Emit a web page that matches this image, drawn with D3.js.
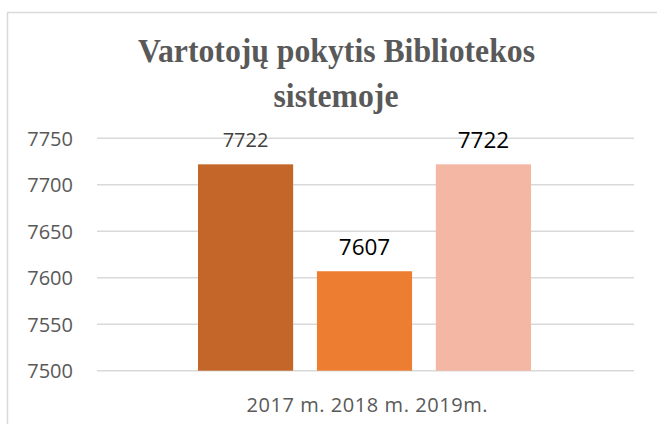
<!DOCTYPE html>
<html>
<head>
<meta charset="utf-8">
<script src="https://cdn.jsdelivr.net/npm/d3@7"></script>
<style>
  html, body { margin: 0; padding: 0; background: #fff; }
  svg { display: block; }
</style>
</head>
<body>
<svg id="chart" width="657" height="424"></svg>
<script>
const titleLines = ["Vartotojų pokytis Bibliotekos", "sistemoje"];
const categoryLabel = "2017 m. 2018 m. 2019m.";
const seriesNames = ["2017 m.", "2018 m.", "2019m."];
const seriesValues = [7722, 7607, 7722];
const seriesColors = ["#c4662a", "#ed7d31", "#f4b7a3"];
const yTicks = [7500, 7550, 7600, 7650, 7700, 7750];

const svg = d3.select("#chart");

// outer frame
svg.append("rect")
  .attr("x", 7.5).attr("y", 12.5)
  .attr("width", 720).attr("height", 520)
  .attr("fill", "#fff")
  .attr("stroke", "#d9d9d9").attr("stroke-width", 1.5);

// title
const title = svg.append("g");
title.append("text")
  .attr("x", 336.5).attr("y", 62)
  .attr("text-anchor", "middle")
  .attr("font-family", "'Liberation Serif', 'Times New Roman', serif")
  .attr("font-weight", "bold")
  .attr("font-size", 33)
  .attr("fill", "#595959")
  .attr("textLength", 397)
  .attr("lengthAdjust", "spacingAndGlyphs")
  .text(titleLines[0]);
title.append("text")
  .attr("x", 336).attr("y", 106.5)
  .attr("text-anchor", "middle")
  .attr("font-family", "'Liberation Serif', 'Times New Roman', serif")
  .attr("font-weight", "bold")
  .attr("font-size", 33)
  .attr("fill", "#595959")
  .attr("textLength", 125)
  .attr("lengthAdjust", "spacingAndGlyphs")
  .text(titleLines[1]);

// scales
const plotLeft = 97, plotRight = 634;
const y = d3.scaleLinear().domain([7500, 7750]).range([370.7, 138.3]);
const x = d3.scaleBand().domain(seriesNames).range([198, 531]).paddingInner(0.2).paddingOuter(0);

// gridlines
svg.append("g")
  .selectAll("line")
  .data(yTicks)
  .join("line")
  .attr("x1", plotLeft).attr("x2", plotRight)
  .attr("y1", d => y(d)).attr("y2", d => y(d))
  .attr("stroke", "#d9d9d9").attr("stroke-width", 1.5);

// y axis labels
const yAxis = d3.axisLeft(y).tickValues(yTicks).tickSize(0).tickPadding(0).tickFormat(d3.format("d"));
const yg = svg.append("g").attr("transform", "translate(73,0)").call(yAxis);
yg.select(".domain").remove();
yg.selectAll("text")
  .attr("font-family", "'Open Sans', 'Noto Sans', sans-serif")
  .attr("font-size", 20)
  .attr("fill", "#595959")
  .attr("dy", "0.36em");

// bars
const data = seriesNames.map((n, i) => ({ name: n, value: seriesValues[i], color: seriesColors[i] }));
svg.append("g")
  .selectAll("rect")
  .data(data)
  .join("rect")
  .attr("x", d => x(d.name))
  .attr("width", x.bandwidth())
  .attr("y", d => y(d.value))
  .attr("height", d => y(7500) - y(d.value))
  .attr("fill", d => d.color);

// value labels
const labelStyle = [
  { size: 20, color: "#404040", dy: -17 },
  { size: 22.5, color: "#000000", dy: -16 },
  { size: 22.5, color: "#000000", dy: -16 }
];
svg.append("g")
  .selectAll("text")
  .data(data)
  .join("text")
  .attr("x", d => x(d.name) + x.bandwidth() / 2)
  .attr("y", (d, i) => y(d.value) + labelStyle[i].dy)
  .attr("text-anchor", "middle")
  .attr("font-family", "'Open Sans', 'Noto Sans', sans-serif")
  .attr("font-size", (d, i) => labelStyle[i].size)
  .attr("fill", (d, i) => labelStyle[i].color)
  .text(d => d.value);

// category label
svg.append("text")
  .attr("x", 367).attr("y", 411.5)
  .attr("text-anchor", "middle")
  .attr("font-family", "'Open Sans', 'Noto Sans', sans-serif")
  .attr("font-size", 20)
  .attr("fill", "#595959")
  .attr("textLength", 241)
  .attr("lengthAdjust", "spacing")
  .text(categoryLabel);
</script>
</body>
</html>
